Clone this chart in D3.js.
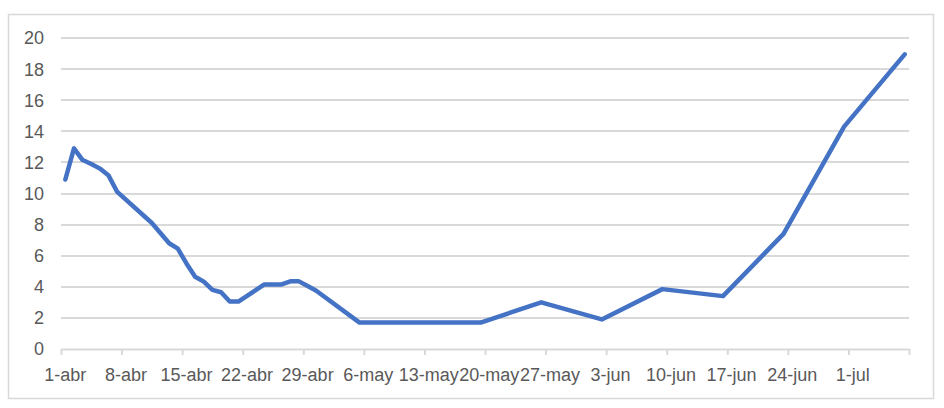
<!DOCTYPE html>
<html>
<head>
<meta charset="utf-8">
<script src="https://cdn.jsdelivr.net/npm/d3@7"></script>
<style>
  html, body { margin: 0; padding: 0; background: #fff; }
  svg { display: block; }
  text { font-family: "Liberation Sans", Arial, sans-serif; fill: #595959; }
</style>
</head>
<body>
<svg id="chart" width="944" height="408"></svg>
<script>
// ---- data ----
const dates = [
  "2020-04-01","2020-04-02","2020-04-03","2020-04-04","2020-04-05","2020-04-06","2020-04-07",
  "2020-04-11","2020-04-13","2020-04-14","2020-04-15","2020-04-16","2020-04-17","2020-04-18",
  "2020-04-19","2020-04-20","2020-04-21","2020-04-24","2020-04-26","2020-04-27","2020-04-28",
  "2020-04-29","2020-04-30","2020-05-05","2020-05-19","2020-05-26","2020-06-02","2020-06-09",
  "2020-06-16","2020-06-23","2020-06-30","2020-07-07"
];
const values = [
  10.9, 12.9, 12.15, 11.9, 11.6, 11.15, 10.1,
  8.1, 6.8, 6.45, 5.5, 4.65, 4.33, 3.8,
  3.65, 3.05, 3.05, 4.15, 4.15, 4.35, 4.35,
  4.05, 3.75, 1.7, 1.7, 3.0, 1.9, 3.85,
  3.4, 7.4, 14.3, 18.95
];
const tickDates = [
  "2020-04-01","2020-04-08","2020-04-15","2020-04-22","2020-04-29","2020-05-06","2020-05-13",
  "2020-05-20","2020-05-27","2020-06-03","2020-06-10","2020-06-17","2020-06-24","2020-07-01","2020-07-08"
];
const tickLabels = [
  "1-abr","8-abr","15-abr","22-abr","29-abr","6-may","13-may",
  "20-may","27-may","3-jun","10-jun","17-jun","24-jun","1-jul",""
];
const yTicks = [0, 2, 4, 6, 8, 10, 12, 14, 16, 18, 20];

// ---- drawing ----
const parse = d3.utcParse("%Y-%m-%d");
const halfDay = 12 * 3600 * 1000;
const svg = d3.select("#chart");

svg.append("rect")
  .attr("x", 8.5).attr("y", 14.5).attr("width", 925).attr("height", 384)
  .attr("fill", "#fff").attr("stroke", "#d9d9d9").attr("stroke-width", 1.5);

const x = d3.scaleUtc()
  .domain([parse(tickDates[0]), parse(tickDates[tickDates.length - 1])])
  .range([61, 909]);
const y = d3.scaleLinear().domain([0, 20]).range([349, 38]);

// gridlines
svg.append("g")
  .selectAll("line")
  .data(yTicks.filter(v => v !== 0))
  .join("line")
  .attr("x1", 61).attr("x2", 909)
  .attr("y1", d => Math.round(y(d))).attr("y2", d => Math.round(y(d)))
  .attr("stroke", "#d9d9d9").attr("stroke-width", 2);

// y labels
svg.append("g")
  .selectAll("text")
  .data(yTicks)
  .join("text")
  .attr("x", 44)
  .attr("y", d => y(d))
  .attr("dy", "0.36em")
  .attr("text-anchor", "end")
  .style("font-size", "18px")
  .text(d => d);

// x axis line and ticks
const xAxis = d3.axisBottom(x)
  .tickValues(tickDates.map(parse))
  .tickSize(6)
  .tickSizeOuter(0)
  .tickFormat("");
const gx = svg.append("g").attr("transform", "translate(0,349)").call(xAxis);
gx.select(".domain").attr("stroke", "#d9d9d9").attr("stroke-width", 2);
gx.selectAll(".tick line").attr("stroke", "#d9d9d9").attr("stroke-width", 2);

// x labels (centred on the day, as in an Excel date axis)
svg.append("g")
  .selectAll("text")
  .data(tickDates.map((d, i) => ({ d: parse(d), label: tickLabels[i] })).filter(t => t.label))
  .join("text")
  .attr("x", t => x(new Date(+t.d + halfDay)))
  .attr("y", 381)
  .attr("text-anchor", "middle")
  .style("font-size", "18px")
  .text(t => t.label);

// line
const pts = dates.map((d, i) => ({ d: new Date(+parse(d) + halfDay), v: values[i] }));
svg.append("path")
  .datum(pts)
  .attr("fill", "none")
  .attr("stroke", "#4472C4")
  .attr("stroke-width", 4.5)
  .attr("stroke-linejoin", "round")
  .attr("stroke-linecap", "round")
  .attr("d", d3.line().x(p => x(p.d)).y(p => y(p.v)));
</script>
</body>
</html>
